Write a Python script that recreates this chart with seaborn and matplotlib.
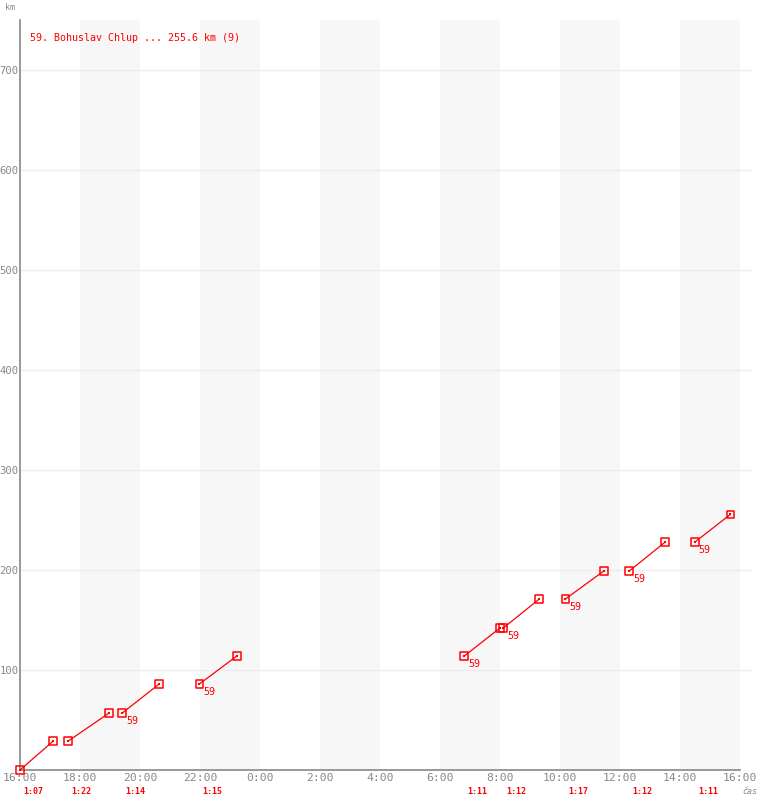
import pandas as pd
import matplotlib
matplotlib.use("Agg")
import matplotlib.pyplot as plt
import seaborn as sns

# segments: start/end time in hours after 16:00, start/end km
seg_start_h = [0.00, 1.61, 3.41, 5.98, 14.81, 16.11, 18.18, 20.31, 22.50]
seg_end_h = [1.11, 2.97, 4.64, 7.23, 16.00, 17.31, 19.46, 21.51, 23.68]
seg_start_km = [0, 29, 57, 86, 114, 142, 171, 199, 228]
seg_end_km = [29, 57, 86, 114, 142, 171, 199, 228, 255.6]
durations = ["1:07", "1:22", "1:14", "1:15", "1:11", "1:12", "1:17", "1:12", "1:11"]
show_num = [False, False, True, True, True, True, True, True, True]

x_ticks = [0, 2, 4, 6, 8, 10, 12, 14, 16, 18, 20, 22, 24]
x_labels = ["16:00", "18:00", "20:00", "22:00", "0:00", "2:00", "4:00",
            "6:00", "8:00", "10:00", "12:00", "14:00", "16:00"]
y_ticks = [100, 200, 300, 400, 500, 600, 700]
bands = [(2, 4), (6, 8), (10, 12), (14, 16), (18, 20), (22, 24)]

rows = []
for i in range(len(seg_start_h)):
    rows.append({"seg": i, "h": seg_start_h[i], "km": seg_start_km[i]})
    rows.append({"seg": i, "h": seg_end_h[i], "km": seg_end_km[i]})
df = pd.DataFrame(rows)

sns.set_style("white")
plt.rcParams["font.family"] = ["DejaVu Sans Mono"]

fig = plt.figure(figsize=(7.6, 8), dpi=100)
ax = fig.add_axes([20 / 760, 30 / 800, 720 / 760, 750 / 800])
ax.set_xlim(0, 24)
ax.set_ylim(0, 750)

for a, b in bands:
    ax.axvspan(a, b, color="#f7f7f7", lw=0, zorder=0)
for y in y_ticks:
    ax.plot([0, 24.37], [y, y], color="#ececec", lw=0.9, zorder=0.5, clip_on=False)

sns.lineplot(data=df, x="h", y="km", units="seg", estimator=None,
             color="red", lw=0.9, ax=ax, legend=False, zorder=3)
sns.scatterplot(data=df, x="h", y="km", marker="s", s=30, facecolor="none",
                edgecolor="red", linewidth=1.1, ax=ax, zorder=4, legend=False,
                clip_on=False)
sns.scatterplot(data=df, x="h", y="km", marker="s", s=2, color="red",
                linewidth=0, ax=ax, zorder=5, legend=False, clip_on=False)

for i in range(len(seg_start_h)):
    if show_num[i]:
        ax.text(seg_start_h[i] + 0.12, seg_start_km[i] - 3, "59", color="red",
                fontsize=7.2, ha="left", va="top", zorder=6)
    ax.text(seg_start_h[i] + 0.1, -22, durations[i], color="red", fontsize=6,
            fontweight="bold", ha="left", va="center", transform=ax.transData,
            clip_on=False)

ax.set_xticks(x_ticks)
ax.set_xticklabels(x_labels)
ax.set_yticks(y_ticks)
ax.tick_params(axis="both", length=0, colors="#888888")
ax.tick_params(axis="x", pad=2, labelsize=8.2)
ax.tick_params(axis="y", pad=1, labelsize=7.6)
for lbl in ax.get_yticklabels() + ax.get_xticklabels():
    lbl.set_color("#888888")
for side in ["top", "right"]:
    ax.spines[side].set_visible(False)
for side in ["left", "bottom"]:
    ax.spines[side].set_color("#888888")
    ax.spines[side].set_linewidth(1.2)
ax.set_xlabel("")
ax.set_ylabel("")

ax.text(0.35, 732, "59. Bohuslav Chlup ... 255.6 km (9)", color="red",
        fontsize=7.2, ha="left", va="center")
fig.text(5 / 760, 1 - 7 / 800, "km", color="#888888", fontsize=6,
         ha="left", va="center")
fig.text(757 / 760, 1 - 792 / 800, "čas", color="#888888", fontsize=6,
         ha="right", va="center", style="italic")

fig.savefig("out.png", dpi=100)
